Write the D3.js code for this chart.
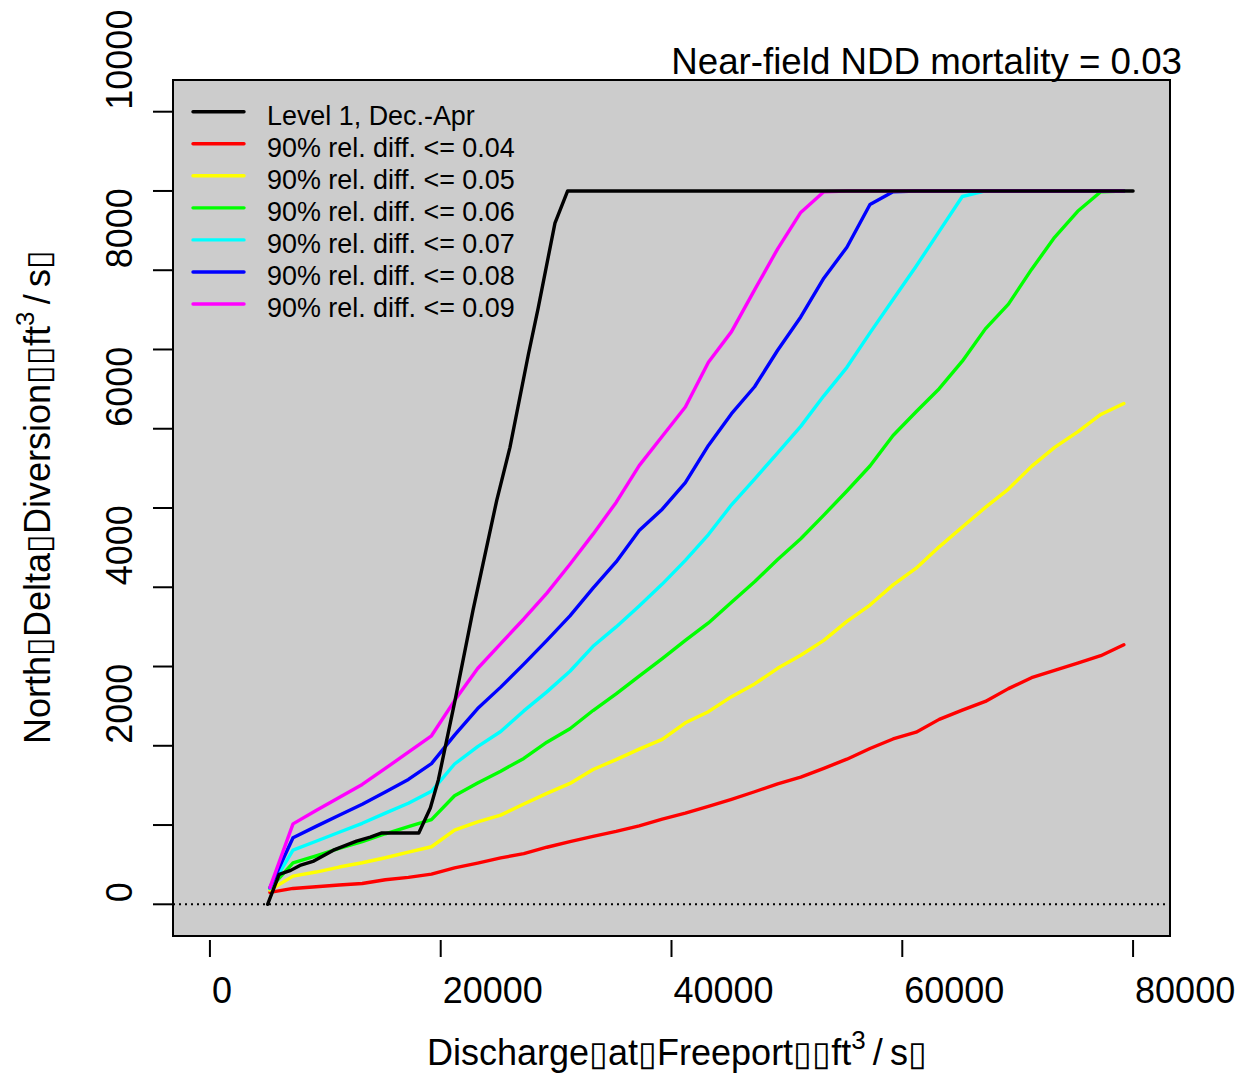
<!DOCTYPE html>
<html><head><meta charset="utf-8">
<script src="https://cdn.jsdelivr.net/npm/d3@7"></script>
<style>
body{margin:0;background:#fff}
text{font-family:"Liberation Sans",Arial,sans-serif;fill:#000}
.box{font-family:"DejaVu Sans";font-weight:100}
</style>
</head><body>
<svg id="chart" width="1249" height="1074"></svg>
<script>
// ---------- data ----------
const flows = [5200,7200,9200,11200,13200,15200,17200,19200,21200,23200,25200,27200,29200,31200,33200,35200,37200,39200,41200,43200,45200,47200,49200,51200,53200,55200,57200,59200,61200,63200,65200,67200,69200,71200,73200,75200,77200,79200];
const div004 = [150,200,222,244,262,310,340,380,460,520,585,640,720,790,858,920,990,1075,1150,1235,1325,1420,1520,1605,1716,1831,1965,2086,2172,2333,2449,2560,2721,2859,2952,3044,3136,3275];
const div005 = [180,356,407,470,524,587,658,726,935,1040,1125,1265,1400,1525,1700,1825,1958,2080,2290,2430,2620,2780,2977,3142,3330,3570,3775,4030,4240,4510,4760,5008,5239,5525,5765,5960,6180,6318];
const div006 = [200,524,612,705,792,890,980,1069,1370,1530,1680,1840,2045,2215,2445,2655,2880,3100,3330,3550,3810,4070,4350,4612,4910,5215,5530,5915,6215,6505,6852,7260,7572,8010,8415,8744,8990,9000];
const div007 = [200,683,795,909,1022,1150,1275,1425,1770,1990,2180,2440,2680,2940,3255,3500,3765,4040,4340,4665,5040,5365,5696,6030,6415,6775,7210,7630,8050,8490,8930,9000,9000,9000,9000,9000,9000,9000];
const div008 = [210,839,983,1123,1263,1417,1575,1774,2135,2470,2740,3030,3330,3640,3990,4320,4715,4985,5320,5790,6190,6530,6990,7410,7900,8290,8830,8990,9000,9000,9000,9000,9000,9000,9000,9000,9000,9000];
const div009 = [210,1015,1183,1348,1512,1714,1920,2126,2570,2975,3290,3600,3926,4290,4670,5070,5535,5905,6275,6840,7225,7752,8270,8729,8990,9000,9000,9000,9000,9000,9000,9000,9000,9000,9000,9000,9000,9000];
const level1Flow = [5000,6000,7000,7800,9000,10700,12700,13900,14900,18100,19100,19800,21250,22800,24850,26000,27600,28450,29900,31000,80000];
const level1Div  = [0,377,428,491,545,683,796,847,900,900,1216,1572,2580,3711,5094,5765,6940,7526,8595,9000,9000];

const legendLabels = ["Level 1, Dec.-Apr","90% rel. diff. <= 0.04","90% rel. diff. <= 0.05","90% rel. diff. <= 0.06","90% rel. diff. <= 0.07","90% rel. diff. <= 0.08","90% rel. diff. <= 0.09"];
const legendColors = ["#000000","#FF0000","#FFFF00","#00FF00","#00FFFF","#0000FF","#FF00FF"];
const xTickValues = [0,20000,40000,60000,80000];
const yTickValues = [0,1000,2000,3000,4000,5000,6000,7000,8000,9000,10000];
const yLabelValues = [0,2000,4000,6000,8000,10000];
const titleText = "Near-field NDD mortality = 0.03";

// ---------- layout ----------
const svg = d3.select("#chart");
const L = 173, R = 1170, T = 80, B = 936;
const x = d3.scaleLinear().domain([-3200, 83200]).range([L, R]);
const y = d3.scaleLinear().domain([-400, 10400]).range([B, T]);
const LW = 3.4;

svg.append("rect").attr("x",L).attr("y",T).attr("width",R-L).attr("height",B-T)
  .attr("fill","#CCCCCC");

// zero reference line
svg.append("line").attr("x1",L).attr("x2",R).attr("y1",y(0)).attr("y2",y(0))
  .attr("stroke","#000").attr("stroke-width",2).attr("stroke-dasharray","2,4");

const line = d3.line().x(d=>x(d[0])).y(d=>y(d[1]));
const colored = [div004,div005,div006,div007,div008,div009];
colored.forEach((vals,i)=>{
  svg.append("path").datum(flows.map((f,j)=>[f,vals[j]]))
    .attr("d",line).attr("fill","none").attr("stroke",legendColors[i+1])
    .attr("stroke-width",LW).attr("stroke-linejoin","round").attr("stroke-linecap","round");
});
svg.append("path").datum(level1Flow.map((f,j)=>[f,level1Div[j]]))
  .attr("d",line).attr("fill","none").attr("stroke","#000")
  .attr("stroke-width",LW).attr("stroke-linejoin","round").attr("stroke-linecap","round");

// box
svg.append("rect").attr("x",L).attr("y",T).attr("width",R-L).attr("height",B-T)
  .attr("fill","none").attr("stroke","#000").attr("stroke-width",2);

// y axis ticks
const yAx = svg.append("g");
yAx.selectAll("line").data(yTickValues).join("line")
  .attr("x1",153).attr("x2",L).attr("y1",d=>y(d)).attr("y2",d=>y(d))
  .attr("stroke","#000").attr("stroke-width",2);
yAx.selectAll("text").data(yLabelValues).join("text")
  .attr("transform",d=>`translate(132,${y(d)-2}) rotate(-90)`)
  .attr("text-anchor","start").attr("font-size",36).text(d=>d);

// x axis ticks
const xAx = svg.append("g");
xAx.selectAll("line").data(xTickValues).join("line")
  .attr("x1",d=>x(d)).attr("x2",d=>x(d)).attr("y1",940).attr("y2",957)
  .attr("stroke","#000").attr("stroke-width",2);
xAx.selectAll("text").data(xTickValues).join("text")
  .attr("x",d=>x(d)+2).attr("y",1003).attr("text-anchor","start")
  .attr("font-size",36).text(d=>d);

// axis titles
function buildTitle(sel, words){
  sel.append("tspan").text(words[0]);
  sel.append("tspan").attr("class","box").attr("font-size",34).text("\u25AF");
  sel.append("tspan").text(words[1]);
  sel.append("tspan").attr("class","box").attr("font-size",34).text("\u25AF");
  sel.append("tspan").text(words[2]);
  sel.append("tspan").attr("class","box").attr("font-size",34).text("\u25AF\u25AF");
  sel.append("tspan").text("ft");
  sel.append("tspan").attr("font-size",26).attr("dy",-16).text("3");
  sel.append("tspan").attr("dy",16).text("\u2009/\u2009s");
  sel.append("tspan").attr("class","box").attr("font-size",34).text("\u25AF");
}
const xt = svg.append("text").attr("x",677).attr("y",1065).attr("text-anchor","middle").attr("font-size",36);
buildTitle(xt, ["Discharge","at","Freeport"]);
const yt = svg.append("text").attr("transform","translate(50,497) rotate(-90)")
  .attr("text-anchor","middle").attr("font-size",36);
buildTitle(yt, ["North","Delta","Diversion"]);

// title
svg.append("text").attr("x",1182).attr("y",74).attr("text-anchor","end")
  .attr("font-size",36.7).text(titleText);

// legend
const lg = svg.append("g");
legendLabels.forEach((lab,i)=>{
  const ly = 111.7 + i*32.05;
  lg.append("line").attr("x1",193).attr("x2",244).attr("y1",ly).attr("y2",ly)
    .attr("stroke",legendColors[i]).attr("stroke-width",LW).attr("stroke-linecap","round");
  lg.append("text").attr("x",267).attr("y",ly+13.3).attr("font-size",26.9).text(lab);
});
</script>
</body></html>
